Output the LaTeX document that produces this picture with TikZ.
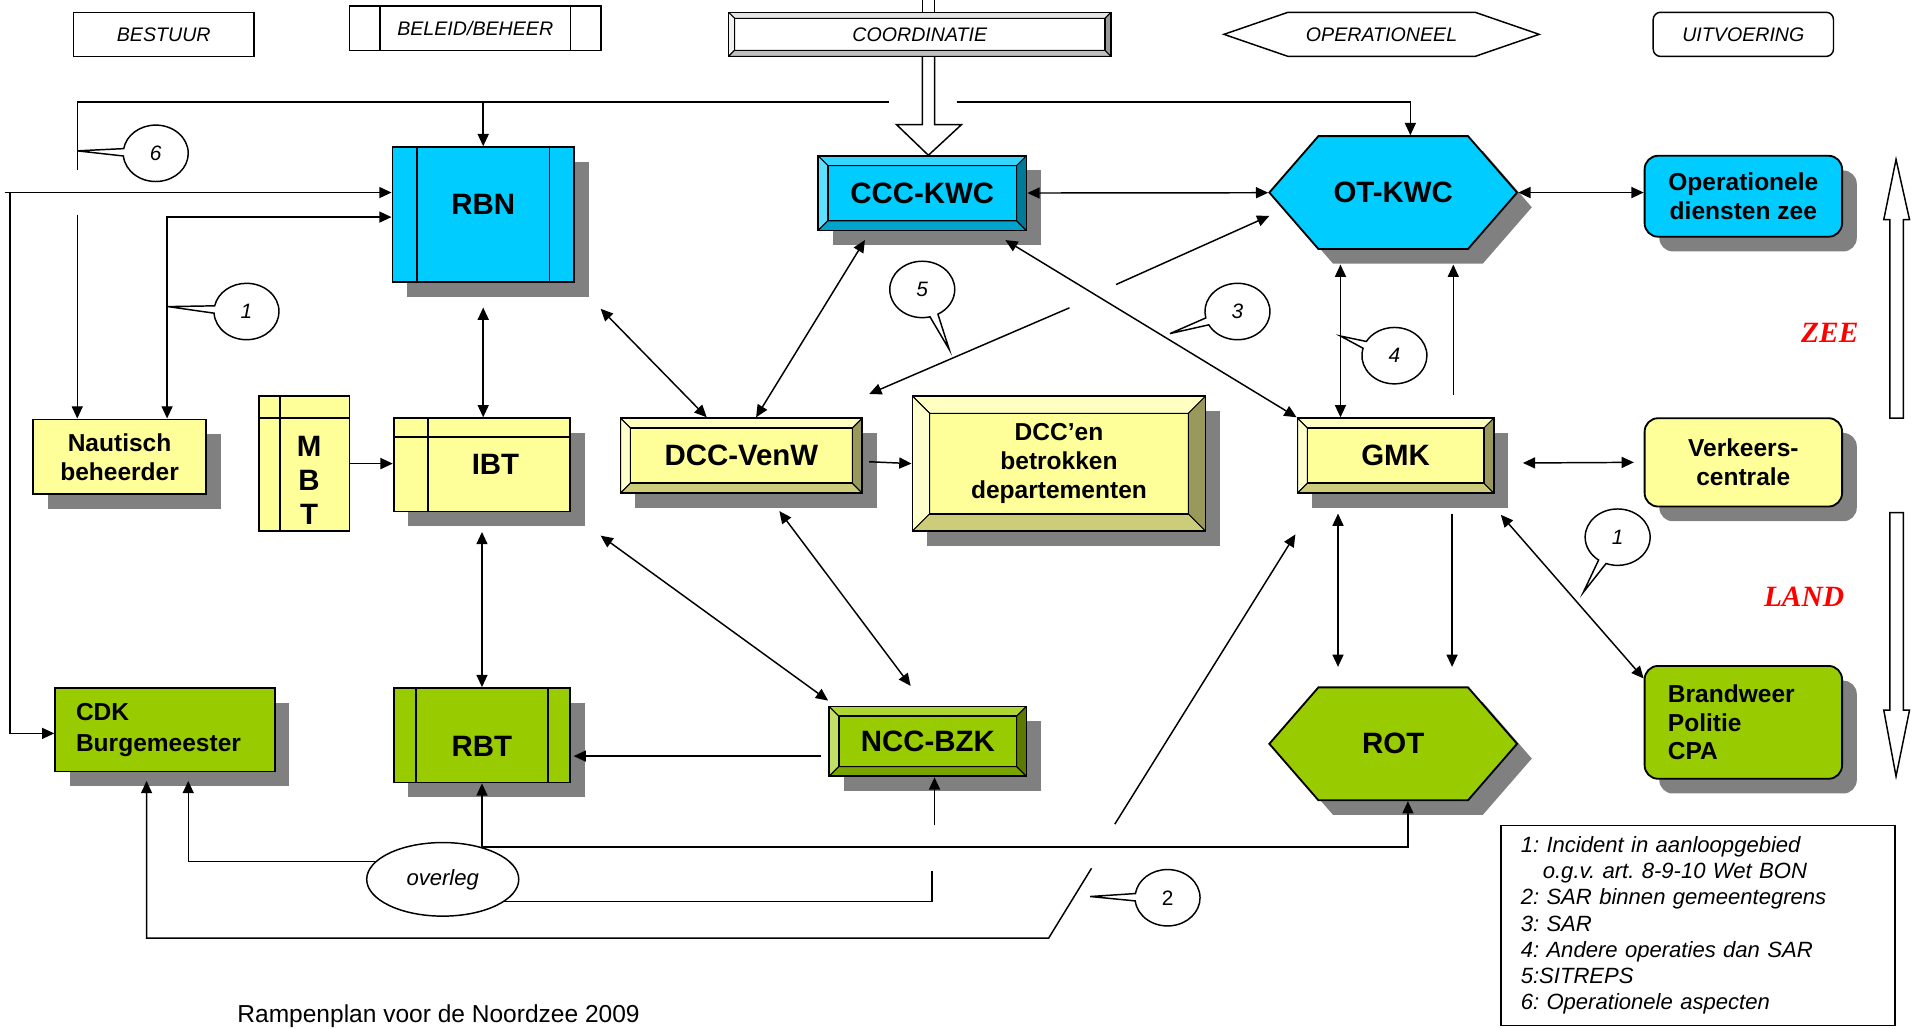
\documentclass[tikz,border=0pt]{standalone}
\usepackage{fontspec}
\setmainfont{Liberation Sans}
\newfontfamily\timesfont{Liberation Serif}
\usetikzlibrary{arrows.meta,shapes.geometric,shapes.symbols,shapes.callouts,shadows}

\definecolor{yelF}{HTML}{FFFF99}
\definecolor{yelT}{HTML}{FFFFC2}
\definecolor{yelL}{HTML}{FFFFCC}
\definecolor{yelB}{HTML}{CCCC7A}
\definecolor{yelR}{HTML}{99995C}
\definecolor{cyaF}{HTML}{00CCFF}
\definecolor{cyaT}{HTML}{33D6FF}
\definecolor{cyaL}{HTML}{5CE0FF}
\definecolor{cyaB}{HTML}{00A3CC}
\definecolor{cyaR}{HTML}{007A99}
\definecolor{grnF}{HTML}{99CC00}
\definecolor{grnT}{HTML}{ADD633}
\definecolor{grnL}{HTML}{C2E066}
\definecolor{grnB}{HTML}{7AA300}
\definecolor{grnR}{HTML}{5C7A00}
\definecolor{whtF}{HTML}{FFFFFF}
\definecolor{whtT}{HTML}{E6E6E6}
\definecolor{whtL}{HTML}{F2F2F2}
\definecolor{whtB}{HTML}{BFBFBF}
\definecolor{whtR}{HTML}{999999}

\newcommand\lblfont{\fontsize{24}{28}\selectfont\bfseries}
\newcommand\twofont{\fontsize{20}{23.5}\selectfont\bfseries}
\newcommand\hdrfont{\fontsize{16}{19}\selectfont\itshape}
\newcommand\legfont{\fontsize{18}{21.3}\selectfont\itshape}
\newcommand\numfont{\fontsize{17}{20}\selectfont\itshape}
\newcommand\landfont{\timesfont\fontsize{24}{28}\selectfont\bfseries\itshape}

\tikzset{
  box/.style={draw, line width=1.5pt, inner sep=0pt, align=center},
  hdr/.style={draw, line width=1.2pt, inner sep=0pt, minimum width=147pt, minimum height=36pt, font=\hdrfont},
  dropgray/.style={drop shadow={shadow xshift=12pt, shadow yshift=-12pt, opacity=1, fill=black!50}},
  bars/.style={path picture={
    \draw ([xshift=#1]path picture bounding box.north west) -- ([xshift=#1]path picture bounding box.south west)
          ([xshift=-#1]path picture bounding box.north east) -- ([xshift=-#1]path picture bounding box.south east);}},
  store/.style 2 args={path picture={
    \draw ([xshift=#1]path picture bounding box.north west) -- ([xshift=#1]path picture bounding box.south west)
          ([yshift=-#2]path picture bounding box.north west) -- ([yshift=-#2]path picture bounding box.north east);}},
  bevel/.style 2 args={fill=#2F, path picture={
    \path (path picture bounding box.north west) coordinate (q1)
          (path picture bounding box.north east) coordinate (q2)
          (path picture bounding box.south east) coordinate (q3)
          (path picture bounding box.south west) coordinate (q4);
    \path ([shift={(#1,-#1)}]q1) coordinate (r1) ([shift={(-#1,-#1)}]q2) coordinate (r2)
          ([shift={(-#1,#1)}]q3) coordinate (r3) ([shift={(#1,#1)}]q4) coordinate (r4);
    \filldraw[fill=#2T, line width=0.8pt] (q1) -- (q2) -- (r2) -- (r1) -- cycle;
    \filldraw[fill=#2L, line width=0.8pt] (q1) -- (q4) -- (r4) -- (r1) -- cycle;
    \filldraw[fill=#2B, line width=0.8pt] (q4) -- (q3) -- (r3) -- (r4) -- cycle;
    \filldraw[fill=#2R, line width=0.8pt] (q2) -- (q3) -- (r3) -- (r2) -- cycle;
    \draw[line width=1.2pt] (r1) rectangle (r3);}},
  hexa/.style={signal, signal to=west and east, signal pointer angle=98, minimum width=202pt, minimum height=92pt},
  bubble/.style={ellipse callout, draw, fill=white, line width=1.2pt, minimum width=53pt, minimum height=46pt, inner sep=0pt, font=\numfont},
}

\begin{document}
\frenchspacing
\begin{tikzpicture}[x=1pt, y=-1pt, line width=1.2pt, >={Triangle[length=10pt,width=9pt]}]
  \useasboundingbox (0,0) rectangle (1568,839);

  \node[hdr] (hb) at (133.5,28) {BESTUUR};
  \node[hdr, bars=25pt, minimum width=205pt] (hbb) at (387.5,23) {BELEID/BEHEER};
  \node[hdr, bevel={5pt}{wht}, minimum width=312pt] (hc) at (750,28) {\raisebox{-2pt}{COORDINATIE}};
  \node[hdr, signal, signal to=west and east, signal pointer angle=38, minimum width=257pt] (ho) at (1126.5,28) {OPERATIONEEL};
  \node[hdr, rounded corners=6pt] (hu) at (1421.5,28) {UITVOERING};

  \node[box, fill=cyaF, bars=20pt, dropgray, minimum width=148pt, minimum height=110pt, font=\lblfont] (rbn) at (394,175) {\raisebox{0pt}[0pt][0pt]{RBN}};
  \node[box, bevel={8pt}{cya}, dropgray, minimum width=170pt, minimum height=61pt, font=\lblfont] (ccc) at (752,157.5) {CCC-KWC};
  \node[box, hexa, fill=cyaF, dropgray, font=\lblfont] (otk) at (1136,157) {OT-KWC};
  \node[box, fill=cyaF, rounded corners=11pt, dropgray, minimum width=161pt, minimum height=66pt, font=\twofont] (ops) at (1421.5,160) {Operationele\\diensten zee};

  \node[box, fill=yelF, dropgray, minimum width=141pt, minimum height=61pt, font=\twofont] (nau) at (97.5,372.5) {Nautisch\\beheerder};
  \node[box, fill=yelF, store={17pt}{18pt}, minimum width=74pt, minimum height=110pt, font=\lblfont] (mbt) at (248,378) {\hspace*{8pt}\raisebox{6pt}[0pt][0pt]{\parbox[t]{24pt}{\centering M\\B\\T}}};
  \node[box, fill=yelF, store={28pt}{15pt}, dropgray, minimum width=144pt, minimum height=76pt, font=\lblfont] (ibt) at (393,379) {\hspace*{22pt}IBT};
  \node[box, bevel={8pt}{yel}, dropgray, minimum width=197pt, minimum height=61pt, font=\lblfont] (dvw) at (604.5,371.5) {DCC-VenW};
  \node[box, bevel={14pt}{yel}, dropgray, minimum width=239pt, minimum height=110pt, font=\twofont] (dcc) at (863.5,378) {DCC’en\\betrokken\\departementen};
  \node[box, bevel={8pt}{yel}, dropgray, minimum width=160pt, minimum height=61pt, font=\lblfont] (gmk) at (1138,371.5) {GMK};
  \node[box, fill=yelF, rounded corners=11pt, dropgray, minimum width=161pt, minimum height=72pt, font=\twofont] (vkc) at (1421.5,377) {Verkeers-\\centrale};

  \node[box, fill=grnF, dropgray, minimum width=179pt, minimum height=68pt, text width=145pt, align=left, font=\fontsize{20}{25}\selectfont\bfseries] (cdk) at (134.5,595) {CDK\\Burgemeester};
  \node[box, fill=grnF, bars=18pt, dropgray, minimum width=144pt, minimum height=77pt, font=\lblfont] (rbt) at (393,599.5) {\raisebox{-17pt}[0pt][0pt]{RBT}};
  \node[box, bevel={8pt}{grn}, dropgray, minimum width=161pt, minimum height=57pt, font=\lblfont] (ncc) at (756.5,604.5) {NCC-BZK};
  \node[box, hexa, fill=grnF, dropgray, font=\lblfont] (rot) at (1136,606.5) {ROT};
  \node[box, fill=grnF, rounded corners=11pt, dropgray, minimum width=161pt, minimum height=92pt, text width=123pt, align=left, font=\twofont] (bpc) at (1421.5,589) {Brandweer\\Politie\\CPA};

  \node[draw, ellipse, fill=white, line width=1.2pt, minimum width=124pt, minimum height=60pt, inner sep=0pt, font=\fontsize{18}{21}\selectfont\itshape] (ovl) at (361,717) {overleg};
  \node[draw, line width=1.2pt, minimum width=321pt, minimum height=163pt, inner sep=0pt, text width=289pt, align=left, font=\legfont] (leg) at (1384.5,754.5) {1: Incident in aanloopgebied\\\hspace*{18pt}o.g.v. art. 8-9-10 Wet BON\\2: SAR binnen gemeentegrens\\3: SAR\\4: Andere operaties dan SAR\\5:SITREPS\\6: Operationele aspecten};
  \node[anchor=base west, inner sep=0pt, font=\fontsize{20}{24}\selectfont] (ttl) at (193,834) {Rampenplan voor de Noordzee 2009};
  \node[text=red, font=\landfont] (zee) at (1492,271) {ZEE};
  \node[text=red, font=\landfont] (land) at (1471,487) {LAND};

  \draw ([xshift=2pt]hc.north) -- ++(0,-10) ([xshift=12pt]hc.north) -- ++(0,-10);
  \draw[fill=white] ([xshift=2pt]hc.south) -- ++(0,55) -- ++(-21,0) -- ++(26,25) -- ++(27,-25) -- ++(-22,0) -- ++(0,-55);
  \draw[fill=white] (1541,341) -- (1541,179) -- (1536,179) -- (1546,130) -- (1557,179) -- (1552,179) -- (1552,341) -- cycle;
  \draw[fill=white] (1541,418) -- (1541,579) -- (1536,579) -- (1546,633) -- (1557,579) -- (1552,579) -- (1552,418) -- cycle;

  \coordinate (t1) at (63,139);
  \coordinate (t2) at (725,83);
  \coordinate (t3) at (780,83);
  \coordinate (t4) at (63,175);
  \coordinate (l0) at (4,157);
  \coordinate (l1) at (8,157);
  \coordinate (s1) at (910,232);
  \coordinate (s2) at (872,251);
  \coordinate (g1) at (909,672);
  \coordinate (g3) at (1185,322);
  \coordinate (n1) at (762,673);
  \coordinate (o2) at (760,710);
  \coordinate (c2a) at (855,765);
  \coordinate (c2b) at (890,708);

  \draw (t1) |- (t2);
  \draw[->] (rbn.north |- t2) -- (rbn.north);
  \draw[->] (t3) -| ([xshift=14pt]otk.north);
  \draw[->] (t4) -- (nau.north -| t4);
  \draw[->] (l0) -- (rbn.west |- l0);
  \draw[->] (l1) |- ([shift={(0,3)}]cdk.west);
  \draw[<->] ([shift={(110,0)}]nau.north west) |- ([shift={(0,2)}]rbn.west);

  \draw[<->] (ccc) -- (otk);
  \draw[<->] (otk.east) -- (otk.east -| ops.west);
  \draw[<->] ([shift={(0,20)}]rbn.south) -- (rbn.south |- ibt.north);
  \draw[<->] ([shift={(21,21)}]rbn.south east) -- ([shift={(71,0)}]dvw.north west);
  \draw[<->] ([shift={(39,7)}]ccc.south west) -- ([shift={(12,0)}]dvw.north);
  \draw[<->] ([shift={(-18,7)}]ccc.south east) -- (gmk.north west);
  \draw[->] (s1) -- ([shift={(1,19)}]otk.west);
  \draw[->] (s2) -- ([shift={(5,-19)}]dvw.north east);
  \draw[<->] ([shift={(-43,12)}]otk.south) -- ([shift={(-45,0)}]gmk.north);
  \draw[->] (g3) -- ([shift={(49,12)}]otk.south);
  \draw[->] (mbt.east) -- (mbt.east -| ibt.west);
  \draw[->] ([shift={(5,5)}]dvw.east) -- (dcc.west);
  \draw[<->] ([shift={(23,6)}]gmk.east) -- ([shift={(-8,0)}]vkc.west);
  \draw[<->] ([shift={(0,16)}]ibt.south) -- (ibt.south |- rbt.north);
  \draw[<->] ([shift={(24,19)}]ibt.south east) -- ([shift={(0,-4)}]ncc.north west);
  \draw[<->] ([shift={(31,14)}]dvw.south) -- ([shift={(-14,-16)}]ncc.north);
  \draw[->] ([shift={(-6,12)}]ncc.west) -- ([shift={(2,17)}]rbt.east);
  \draw[->] (n1) -- (ncc.south -| n1);
  \draw[->] (g1) -- ([shift={(-1,33)}]gmk.south west);
  \draw[<->] ([shift={(-47,16)}]gmk.south) -- ([shift={(-45,-16)}]rot.north);
  \draw[->] ([shift={(46,16)}]gmk.south) -- ([shift={(48,-16)}]rot.north);
  \draw[<->] ([shift={(5,17)}]gmk.south east) -- ([shift={(0,11)}]bpc.north west);
  \draw[<->] (rbt.south) -- ++(0,52) -| ([shift={(12,0)}]rot.south);
  \draw[<-, shorten <=7pt] ([shift={(19,0)}]cdk.south) |- (ovl.165);
  \draw (ovl.-20) -| (o2);
  \draw[<-, shorten <=7pt] ([shift={(-15,0)}]cdk.south) |- (c2a) -- (c2b);

  \node[bubble, callout absolute pointer={(63,123)}] (c6) at (127,125) {6};
  \node[bubble, callout absolute pointer={(137,250)}] (c1a) at (201,254) {1};
  \node[bubble, callout absolute pointer={(774,285)}] (c5) at (752,236) {5};
  \node[bubble, callout absolute pointer={(954,272)}] (c3) at (1009,254) {3};
  \node[bubble, callout absolute pointer={(1093,274)}] (c4) at (1137,290) {4};
  \node[bubble, callout absolute pointer={(1291,483)}] (c1b) at (1319,438) {1};
  \node[bubble, callout absolute pointer={(889,731)}, font=\fontsize{17}{20}\selectfont] (c2) at (952,732) {2};
\end{tikzpicture}
\end{document}
